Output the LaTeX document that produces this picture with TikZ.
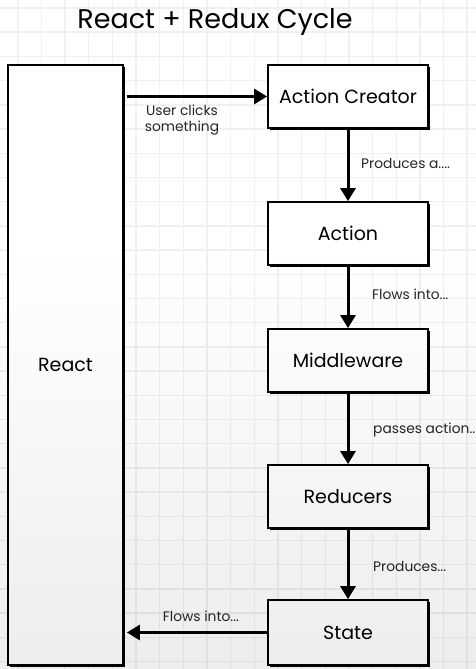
\documentclass[tikz,border=0pt]{standalone}
\usepackage{fontspec}
\setmainfont{Poppins}
\usetikzlibrary{arrows.meta,shadows,fadings}
\begin{document}
\begin{tikzpicture}[x=1pt,y=-1pt,
  gridline/.style={draw=black!6,line width=1.4pt},
  box/.style={draw=black,line width=1.8pt,fill=white,inner sep=0pt,
    minimum width=160pt,minimum height=63pt,font=\fontsize{19}{22}\selectfont,
    drop shadow={shadow xshift=2.2pt,shadow yshift=-2.2pt,opacity=1,fill=black}},
  flow/.style={line width=3pt,-{Triangle[width=15pt,length=13pt]}},
  lbl/.style={font=\fontsize{13.8}{16}\selectfont,text=black!85,inner sep=0pt},
]
\useasboundingbox (0,0) rectangle (476,669);
\fill[white] (0,0) rectangle (476,669);
\foreach \i in {0,...,19} \draw[gridline] (17.8+\i*23.65,0) -- ++(0,669);
\foreach \j in {0,...,27} \draw[gridline] (0,8+\j*24.2) -- ++(476,0);

\node[font=\fontsize{27}{30}\selectfont] (title) at (215,22) {React + Redux Cycle};

\node[box,minimum width=115pt,minimum height=600pt] (react) at (65.5,365) {React};
\node[box] (ac) at (348,96.5) {Action Creator};
\node[box] (action) at (348,233.5) {Action};
\node[box] (mw) at (348,360.5) {Middleware};
\node[box] (red) at (348,496.5) {Reducers};
\node[box,minimum height=65pt] (state) at (348,632.5) {State};

\draw[flow] ([xshift=3pt]react.east |- ac.west) -- (ac.west);
\draw[flow] (ac.south) -- (action.north);
\draw[flow] (action.south) -- (mw.north);
\draw[flow] (mw.south) -- (red.north);
\draw[flow] (red.south) -- (state.north);
\draw[flow] (state.west) -- ([xshift=3pt]react.east |- state.west);

\node[lbl,align=center] (l1) at (182,120) {User clicks\\something};
\node[lbl,anchor=west] (l2) at (361,163) {Produces a....};
\node[lbl,anchor=west] (l3) at (372,294) {Flows into...};
\node[lbl,anchor=west] (l4) at (373,430) {passes action..};
\node[lbl,anchor=west] (l5) at (373,566) {Produces...};
\node[lbl] (l6) at (201,616) {Flows into...};

\fill[black,opacity=0.07,path fading=north] (0,250) rectangle (476,669);
\end{tikzpicture}
\end{document}
